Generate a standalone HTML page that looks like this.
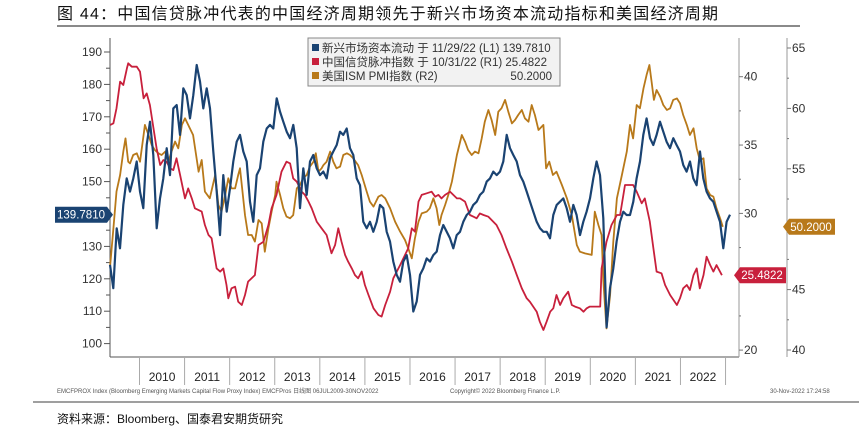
<!DOCTYPE html>
<html><head><meta charset="utf-8"><style>
body{margin:0;background:#fff;width:859px;height:436px;overflow:hidden;font-family:"Liberation Sans","Noto Sans CJK SC",sans-serif}
svg text{font-family:"Liberation Sans","Noto Sans CJK SC",sans-serif}
</style></head><body>
<svg id="c" width="859" height="436" viewBox="0 0 859 436">
<text x="57" y="19" font-size="16" letter-spacing="1.2" fill="#111">图 44：中国信贷脉冲代表的中国经济周期领先于新兴市场资本流动指标和美国经济周期</text>
<line x1="57" y1="26" x2="800" y2="26" stroke="#444" stroke-width="1.2"/>
<line x1="33" y1="402" x2="859" y2="402" stroke="#666" stroke-width="1.2"/>
<text x="57" y="423" font-size="12" fill="#111">资料来源：Bloomberg、国泰君安期货研究</text>
<text x="57" y="393" font-size="6" fill="#555">EMCFPROX Index (Bloomberg Emerging Markets Capital Flow Proxy Index) EMCFPros  日线图 06JUL2009-30NOV2022</text>
<text x="450" y="393" font-size="6" fill="#555">Copyright© 2022 Bloomberg Finance L.P.</text>
<text x="770" y="393" font-size="6" fill="#555">30-Nov-2022 17:24:58</text>
<g id="axes"></g><g id="series"></g>
<g>
<rect x="308" y="38" width="252" height="48" fill="#f2f2f2" stroke="#888" stroke-width="1"/>
<rect x="312" y="44" width="7" height="7" fill="#1a4372"/>
<text x="322" y="52" font-size="11.5" fill="#333">新兴市场资本流动 于 11/29/22 (L1)  139.7810</text>
<rect x="312" y="58" width="7" height="7" fill="#c8203c"/>
<text x="322" y="66" font-size="11.5" fill="#333">中国信贷脉冲指数 于 10/31/22 (R1) 25.4822</text>
<rect x="312" y="72" width="7" height="7" fill="#b8791a"/>
<text x="322" y="80" font-size="11.5" fill="#333">美国ISM PMI指数 (R2)</text>
<text x="552" y="80" font-size="11.5" fill="#333" text-anchor="end">50.2000</text>
</g>
</svg>
<script>
const blueStart=2009.3456, blueStep=0.07394;
const blueValues=[124.3,117.1,135.6,129.4,142.8,151.0,146.9,151.0,156.2,146.9,141.8,161.3,168.5,158.2,135.6,144.8,151.0,160.3,152.0,172.6,173.6,164.4,178.8,176.7,169.5,176.7,186.0,180.9,172.6,178.8,172.6,159.3,146.9,133.5,152.0,140.7,147.9,156.2,162.3,164.4,159.3,156.2,143.8,137.6,152.0,154.1,162.3,166.4,167.5,166.4,175.7,171.6,168.5,165.4,163.4,167.5,160.3,141.8,154.1,145.9,156.2,158.2,154.1,152.0,153.1,151.0,
157.2,159.3,161.3,165.4,164.4,166.4,160.3,158.2,151.0,148.9,137.6,135.6,137.6,134.5,137.6,142.8,141.8,134.5,131.5,125.3,121.2,119.1,125.3,127.3,121.2,109.9,113.0,121.2,123.2,126.3,125.3,127.3,128.4,133.5,136.6,134.5,132.5,129.4,133.5,134.5,137.6,139.7,140.7,142.8,143.8,145.9,146.9,150.0,151.0,153.1,152.0,153.1,156.2,164.4,160.3,158.2,156.2,152.0,150.0,146.9,143.8,140.7,137.6,135.6,134.5,
134.5,132.5,139.7,142.8,143.8,144.8,141.8,137.6,142.8,139.7,133.5,137.6,140.7,144.8,151.0,156.2,152.0,138.7,105.0,117.1,123.2,131.5,137.6,140.7,139.7,139.7,143.8,151.0,156.2,164.4,169.5,163.4,161.3,164.4,168.5,165.4,162.3,160.3,163.4,161.3,159.3,155.1,153.1,156.2,151.0,148.9,159.3,151.0,146.9,144.8,143.8,140.7,137.6,129.4,137.6,139.781];
const redDates=[2009.35,2009.42,2009.49,2009.57,2009.64,2009.72,2009.75,2009.83,2009.94,2010.01,2010.09,2010.16,2010.23,2010.31,2010.38,2010.46,2010.53,2010.60,2010.68,2010.75,2010.82,2010.90,2011.01,2011.08,2011.16,2011.23,2011.38,2011.45,2011.53,2011.60,2011.71,2011.79,2011.86,2011.93,2011.97,2012.04,2012.12,2012.19,2012.27,2012.34,2012.41,2012.56,2012.64,2012.75,2012.86,2012.93,2013.04,2013.15,2013.26,2013.34,2013.41,2013.49,2013.60,2013.67,2013.75,2013.82,2013.93,2014.04,2014.15,2014.26,2014.34,2014.41,2014.48,2014.56,2014.63,2014.71,2014.78,2014.85,2014.93,2015.00,2015.08,2015.19,2015.30,2015.37,2015.45,2015.56,2015.63,2015.78,2015.89,2015.96,2016.04,2016.11,2016.19,2016.26,2016.37,2016.48,2016.56,2016.63,2016.70,2016.78,2016.89,2016.96,2017.04,2017.11,2017.22,2017.33,2017.41,2017.48,2017.55,2017.63,2017.74,2017.81,2017.92,2018.03,2018.14,2018.26,2018.37,2018.48,2018.59,2018.66,2018.81,2018.88,2018.96,2019.03,2019.11,2019.18,2019.25,2019.33,2019.40,2019.51,2019.59,2019.66,2019.77,2019.85,2019.92,2019.99,2020.14,2020.22,2020.25,2020.36,2020.47,2020.59,2020.66,2020.77,2020.88,2020.95,2021.03,2021.14,2021.21,2021.32,2021.40,2021.47,2021.58,2021.66,2021.77,2021.92,2021.99,2022.06,2022.14,2022.21,2022.29,2022.36,2022.43,2022.51,2022.58,2022.66,2022.73,2022.80,2022.92];
const redValues=[36.47,36.59,37.69,39.64,39.39,40.61,40.98,40.73,40.73,40.37,38.42,38.78,37.93,36.22,34.76,33.54,33.91,33.78,33.30,33.17,34.03,32.81,31.10,31.83,31.10,30.37,30.13,29.15,28.42,28.18,25.98,25.74,25.98,24.76,23.79,24.52,24.64,23.54,23.30,24.03,25.01,25.49,27.69,27.93,29.15,30.37,31.35,33.05,33.78,33.66,32.56,32.32,31.59,31.35,30.86,30.37,29.40,28.91,28.42,27.08,27.69,28.91,27.93,26.96,26.47,25.98,25.49,25.25,25.74,24.76,24.03,23.06,22.57,22.45,23.30,24.27,25.25,26.22,26.96,27.44,28.91,28.66,30.86,31.35,31.47,31.59,31.22,31.35,31.10,31.35,31.59,31.35,31.10,31.10,30.86,29.88,29.76,29.64,30.00,29.88,29.76,29.52,29.15,28.42,27.44,26.47,25.49,24.52,23.79,23.54,22.81,22.08,21.47,22.08,22.81,23.06,24.03,23.30,23.79,24.27,23.30,23.18,23.06,22.81,23.06,23.18,23.18,23.18,25.98,27.93,29.15,29.88,29.88,32.08,32.08,32.08,31.59,30.74,31.10,29.40,27.44,25.74,25.62,24.76,24.03,23.30,23.79,24.52,24.76,24.40,25.49,25.98,24.52,25.49,26.83,26.22,25.74,26.22,25.48];
const goldDates=[2009.35,2009.42,2009.49,2009.57,2009.64,2009.69,2009.75,2009.79,2009.86,2009.94,2010.01,2010.09,2010.12,2010.20,2010.27,2010.34,2010.42,2010.49,2010.57,2010.64,2010.71,2010.79,2010.86,2010.94,2011.01,2011.08,2011.19,2011.31,2011.38,2011.45,2011.56,2011.68,2011.75,2011.82,2011.90,2011.97,2012.04,2012.12,2012.19,2012.23,2012.34,2012.41,2012.49,2012.56,2012.64,2012.71,2012.78,2012.86,2012.93,2013.01,2013.04,2013.12,2013.19,2013.26,2013.34,2013.41,2013.49,2013.56,2013.63,2013.71,2013.78,2013.86,2013.91,2013.97,2014.04,2014.08,2014.15,2014.23,2014.30,2014.37,2014.45,2014.52,2014.60,2014.67,2014.74,2014.85,2014.93,2015.04,2015.11,2015.19,2015.30,2015.37,2015.45,2015.56,2015.67,2015.78,2015.89,2015.96,2016.04,2016.11,2016.19,2016.26,2016.37,2016.44,2016.52,2016.59,2016.65,2016.70,2016.78,2016.85,2016.93,2017.04,2017.15,2017.22,2017.29,2017.37,2017.44,2017.52,2017.59,2017.66,2017.74,2017.81,2017.89,2017.96,2018.03,2018.11,2018.18,2018.26,2018.33,2018.40,2018.48,2018.55,2018.63,2018.70,2018.77,2018.85,2018.96,2019.02,2019.09,2019.17,2019.25,2019.37,2019.48,2019.59,2019.70,2019.77,2019.88,2020.03,2020.10,2020.18,2020.25,2020.29,2020.36,2020.44,2020.51,2020.59,2020.70,2020.81,2020.88,2020.95,2021.03,2021.10,2021.18,2021.25,2021.31,2021.36,2021.41,2021.47,2021.55,2021.62,2021.70,2021.77,2021.84,2021.92,2021.99,2022.06,2022.14,2022.21,2022.29,2022.36,2022.43,2022.51,2022.58,2022.66,2022.73,2022.80,2022.88,2022.94];
const goldValues=[47.04,50.07,53.11,54.49,56.42,57.52,55.59,55.45,56.14,56.28,55.59,57.80,58.63,57.80,56.97,56.56,56.28,56.14,56.42,55.59,56.42,57.25,56.70,58.63,59.18,58.63,57.80,54.76,55.73,53.11,52.56,54.49,52.00,51.45,52.83,54.21,53.38,53.38,54.49,55.04,51.17,49.52,49.52,48.97,50.76,50.48,48.14,50.07,51.45,52.83,53.93,52.83,51.73,51.04,50.90,51.17,53.38,53.66,54.21,54.49,55.18,55.59,56.28,54.76,55.04,55.31,55.59,56.42,55.59,55.04,55.18,56.14,56.28,56.14,55.87,55.31,54.49,53.11,52.28,51.87,52.69,52.83,52.56,51.73,50.62,49.80,49.11,48.42,47.59,49.24,50.62,51.31,51.45,51.73,52.56,51.73,50.35,51.17,52.00,52.83,53.93,56.14,57.80,57.25,56.56,56.14,56.42,56.28,57.52,58.90,59.87,59.04,57.80,59.73,60.01,60.70,59.73,58.76,59.04,59.45,59.87,59.18,58.90,60.28,59.45,58.21,58.63,55.04,55.59,54.49,54.76,53.66,52.56,51.17,48.69,48.14,48.00,47.87,51.45,50.35,49.52,45.66,41.79,44.55,48.97,52.56,54.49,56.42,58.63,57.52,60.28,60.01,61.66,62.77,63.59,62.21,60.70,61.52,60.97,60.28,59.87,60.01,60.70,60.83,60.42,59.45,58.63,57.80,58.35,56.70,55.73,55.87,53.38,52.83,52.69,51.73,50.90,50.20];
const leftTicks=[100,110,120,130,140,150,160,170,180,190];
const r1Ticks=[20,30,35,40];
const r2Ticks=[40,45,55,60,65];
const years=[2010,2011,2012,2013,2014,2015,2016,2017,2018,2019,2020,2021,2022];

const NS='http://www.w3.org/2000/svg';
const X=t=>139.5+(t-2010)*45.08;
const YL=v=>52+(190-v)*3.24;
const YR1=v=>76.7+(40-v)*13.67;
const YR2=v=>48+(65-v)*12.08;
function mk(tag,attrs,parent){const e=document.createElementNS(NS,tag);for(const k in attrs)e.setAttribute(k,attrs[k]);parent.appendChild(e);return e;}
const ax=document.getElementById('axes'), se=document.getElementById('series');
let l=mk('line',{x1:110,y1:38,x2:110,y2:357,stroke:'#555','stroke-width':1},ax);


l=mk('line',{x1:110,y1:357,x2:739,y2:357,stroke:'#555','stroke-width':1},ax);


l=mk('line',{x1:739,y1:38,x2:739,y2:357,stroke:'#999','stroke-width':1},ax);


l=mk('line',{x1:787,y1:38,x2:787,y2:357,stroke:'#999','stroke-width':1},ax);


for(let v=100;v<=190;v+=5){mk('line',{x1:v%10?106:104,y1:YL(v),x2:110,y2:YL(v),stroke:'#555'},ax);}
leftTicks.forEach(v=>{const t=mk('text',{x:102,y:YL(v)+4,'font-size':12,'text-anchor':'end',fill:'#333'},ax);t.textContent=v;

});
for(let v=20;v<=42;v+=2.5){mk('line',{x1:739,y1:YR1(v),x2:v%5?741:743,y2:YR1(v),stroke:'#777'},ax);}
r1Ticks.forEach(v=>{const t=mk('text',{x:744,y:YR1(v)+4,'font-size':12,fill:'#333'},ax);t.textContent=v;

});
for(let v=40;v<=65;v+=2.5){mk('line',{x1:787,y1:YR2(v),x2:v%5?789:791,y2:YR2(v),stroke:'#777'},ax);}
r2Ticks.forEach(v=>{const t=mk('text',{x:792,y:YR2(v)+4,'font-size':12,fill:'#333'},ax);t.textContent=v;

});
for(let y=2010;y<=2023;y++){mk('line',{x1:X(y),y1:357,x2:X(y),y2:385,stroke:'#aaa'},ax);}
years.forEach(y=>{const t=mk('text',{x:X(y+0.5),y:381,'font-size':12,'text-anchor':'middle',fill:'#222'},ax);t.textContent=y;

});
function path(dates,vals,Y){return vals.map((v,i)=>(i?'L':'M')+X(dates[i]).toFixed(1)+','+Y(v).toFixed(1)).join('');}
const blueDates=blueValues.map((v,i)=>blueStart+i*blueStep);
let p=mk('path',{d:path(goldDates,goldValues,YR2),fill:'none',stroke:'#b8791a','stroke-width':1.8,'stroke-linejoin':'round'},se);


p=mk('path',{d:path(redDates,redValues,YR1),fill:'none',stroke:'#c8203c','stroke-width':1.8,'stroke-linejoin':'round'},se);


p=mk('path',{d:path(blueDates,blueValues,YL),fill:'none',stroke:'#1a4372','stroke-width':2.2,'stroke-linejoin':'round'},se);


function tag(x,y,w,txt,col,dir,name){const g=mk('g',{},se);


if(dir>0){mk('path',{d:`M${x},${y-8}h${w}l6,8l-6,8h-${w}z`,fill:col},g);}
else{mk('path',{d:`M${x},${y-8}h${w}v16h-${w}l-6,-8z`,fill:col},g);}
const t=mk('text',{x:x+w/2+(dir>0?0:-1),y:y+4,'font-size':11.5,'text-anchor':'middle',fill:'#fff'},g);t.textContent=txt;}
tag(55,YL(blueValues[blueValues.length-1]),52,blueValues[blueValues.length-1].toFixed(4),'#1a4372',1,'em-last-value-tag');
tag(740,YR1(redValues[redValues.length-1]),46,'25.4822','#c8203c',-1,'credit-last-value-tag');
tag(789,YR2(goldValues[goldValues.length-1]),46,goldValues[goldValues.length-1].toFixed(4),'#b8791a',-1,'ism-last-value-tag');
</script>
</body></html>
